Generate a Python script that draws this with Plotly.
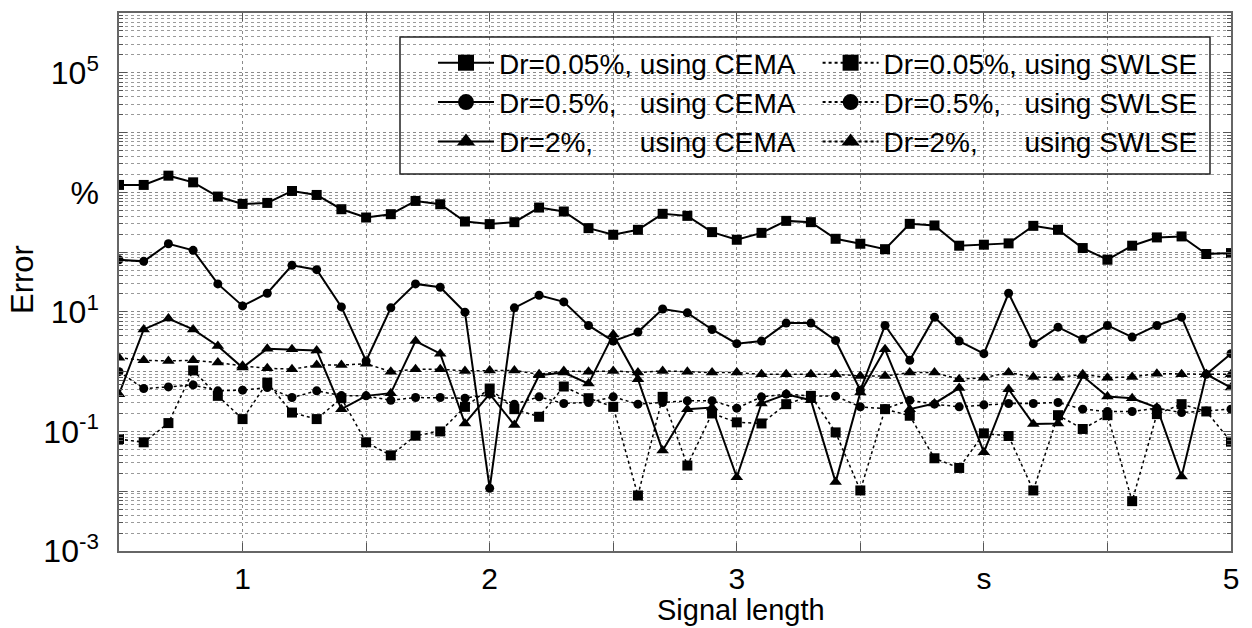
import plotly.graph_objects as go

signal_length = [round(0.5 + 0.1 * i, 1) for i in range(46)]

cema_005 = [1330, 1330, 1900, 1470, 849, 640, 665, 1054, 904, 522, 379, 431, 718, 632, 325, 294,
            317, 556, 478, 252, 195, 236, 437, 404, 216, 161, 210, 333, 317, 167, 138, 112,
            297, 279, 128, 133, 140, 275, 236, 117, 74.6, 128, 176, 183, 92.9, 96.4]
cema_05 = [74.6, 70.0, 138, 107, 29.4, 12.6, 20.5, 60.1, 50.8, 12.1, 1.51, 11.7, 29.4, 25.8, 9.89,
           0.0112, 11.7, 19.0, 14.7, 5.93, 3.25, 4.59, 11.2, 9.64, 5.08, 2.94, 3.25, 6.49, 6.49,
           3.33, 0.490, 5.93, 1.55, 8.17, 3.25, 2.00, 20.5, 2.94, 5.56, 3.47, 5.93, 3.79, 5.93,
           8.17, 0.904, 2.00]
cema_2 = [0.420, 5.09, 7.76, 5.09, 2.69, 1.17, 2.42, 2.36, 2.27, 0.236, 0.394, 0.437, 3.25, 2.00,
          0.136, 0.426, 0.128, 0.871, 0.964, 0.632, 4.20, 0.746, 0.0478, 0.236, 0.252, 0.0171,
          0.294, 0.420, 0.333, 0.0142, 0.448, 2.36, 0.236, 0.294, 0.532, 0.0448, 0.508, 0.133,
          0.136, 0.847, 0.384, 0.360, 0.252, 0.0176, 0.904, 0.542]
swlse_005 = [0.0746, 0.0658, 0.138, 1.05, 0.394, 0.161, 0.656, 0.207, 0.161, 0.360, 0.0658, 0.0398,
             0.0849, 0.100, 0.258, 0.522, 0.236, 0.176, 0.564, 0.360, 0.258, 0.00849, 0.379,
             0.0269, 0.200, 0.142, 0.136, 0.286, 0.394, 0.0964, 0.0103, 0.236, 0.183, 0.0356,
             0.0245, 0.0929, 0.0838, 0.0103, 0.187, 0.110, 0.187, 0.00682, 0.195, 0.286, 0.216,
             0.0675]
swlse_05 = [1.00, 0.522, 0.556, 0.601, 0.478, 0.490, 0.542, 0.369, 0.478, 0.398, 0.394, 0.333,
            0.369, 0.369, 0.360, 0.420, 0.286, 0.379, 0.294, 0.305, 0.379, 0.286, 0.305, 0.325,
            0.325, 0.245, 0.379, 0.420, 0.394, 0.389, 0.258, 0.240, 0.333, 0.286, 0.258, 0.279,
            0.294, 0.294, 0.305, 0.236, 0.216, 0.216, 0.245, 0.207, 0.219, 0.236]
swlse_2 = [1.71, 1.55, 1.51, 1.55, 1.42, 1.25, 1.14, 1.10, 1.29, 1.29, 1.36, 1.00, 1.10, 1.10, 1.03,
           1.05, 1.05, 0.904, 1.03, 1.00, 1.03, 0.964, 1.03, 1.00, 0.964, 0.964, 0.904, 0.904,
           0.904, 0.904, 0.847, 0.847, 0.964, 0.964, 0.746, 0.794, 0.964, 0.817, 0.794, 0.904,
           0.794, 0.817, 0.927, 0.904, 0.904, 0.904]

x_tickvals = [1, 1.5, 2, 2.5, 3, 3.5, 4, 4.5, 5]
x_ticktext = ["1", "", "2", "", "3", "", "s", "", "5"]
y_tickvals = [1e-3, 1e-2, 1e-1, 1e0, 1e1, 1e2, 1e3, 1e4, 1e5, 1e6]
y_ticktext = ["10<sup>-3</sup>", "", "10<sup>-1</sup>", "", "10<sup>1</sup>", "", "%", "",
              "10<sup>5</sup>", ""]

NB = "\u00a0"
names = [
    "Dr=0.05%," + NB + "using CEMA",
    "Dr=0.05%," + NB + "using SWLSE",
    "Dr=0.5%," + NB * 3 + "using CEMA",
    "Dr=0.5%," + NB * 3 + "using SWLSE",
    "Dr=2%," + NB * 6 + "using CEMA",
    "Dr=2%," + NB * 6 + "using SWLSE",
]
series = [cema_005, swlse_005, cema_05, swlse_05, cema_2, swlse_2]
symbols = ["square", "square", "circle", "circle", "triangle-up", "triangle-up"]
sizes = [10, 10, 9, 9, 11, 11]
dashes = ["solid", "dot", "solid", "dot", "solid", "dot"]
widths = [2, 1.5, 2, 1.5, 2, 1.5]

fig = go.Figure()
# data traces
for nm, ys, sym, sz, ds, lw in zip(names, series, symbols, sizes, dashes, widths):
    fig.add_trace(go.Scatter(
        x=signal_length, y=ys, name=nm, mode="lines+markers", showlegend=False,
        line=dict(color="black", width=lw, dash=ds),
        marker=dict(symbol=sym, size=sz, color="black"),
    ))
# legend-only entries (larger legend symbols)
for nm, sym, ds, lw in zip(names, symbols, dashes, widths):
    fig.add_trace(go.Scatter(
        x=[None], y=[None], name=nm, mode="lines+markers", showlegend=True,
        line=dict(color="black", width=2, dash=ds),
        marker=dict(symbol=sym, size=16, color="black"),
    ))

font = "Arial, Liberation Sans, sans-serif"
L, R, T, B = 119, 21, 13, 77
PW, PH = 1252 - L - R, 628 - T - B


def px_x(p):
    return (p - L) / PW


def px_y(p):
    return (628 - B - p) / PH


fig.update_layout(
    width=1252, height=628,
    margin=dict(l=L, r=R, t=T, b=B),
    paper_bgcolor="white", plot_bgcolor="white",
    font=dict(family=font, color="black", size=28),
    showlegend=True,
    legend=dict(
        x=px_x(433), y=px_y(38), xanchor="left", yanchor="top",
        orientation="h",
        bgcolor="rgba(0,0,0,0)", borderwidth=0,
        font=dict(family=font, size=28, color="black"),
        traceorder="normal", itemwidth=56,
    ),
    shapes=[dict(type="rect", xref="paper", yref="paper",
                 x0=px_x(400), x1=px_x(1210), y0=px_y(174), y1=px_y(37),
                 line=dict(color="#222", width=1.5), fillcolor="rgba(0,0,0,0)", layer="above")],
    annotations=[
        dict(text="Signal length", xref="paper", yref="paper", x=px_x(741), y=px_y(610),
             xanchor="center", yanchor="middle", showarrow=False, font=dict(size=29)),
        dict(text="Error", xref="paper", yref="paper", x=px_x(22), y=px_y(280),
             xanchor="center", yanchor="middle", showarrow=False, textangle=-90,
             font=dict(size=31)),
    ],
    xaxis=dict(
        range=[0.5, 5], tickmode="array", tickvals=x_tickvals, ticktext=x_ticktext,
        showgrid=True, gridcolor="#8a8a8a", griddash="dot", gridwidth=1,
        ticks="inside", ticklen=8, tickcolor="#555", mirror="allticks",
        showline=True, linecolor="#666", linewidth=1.5, zeroline=False,
        tickfont=dict(size=30),
    ),
    yaxis=dict(
        type="log", range=[-3, 6], tickmode="array", tickvals=y_tickvals, ticktext=y_ticktext,
        showgrid=True, gridcolor="#8a8a8a", griddash="dot", gridwidth=1,
        ticks="inside", ticklen=8, tickcolor="#555", mirror="allticks",
        showline=True, linecolor="#666", linewidth=1.5, zeroline=False,
        tickfont=dict(size=32), ticklabelstandoff=12,
        minor=dict(dtick="D1", showgrid=True, gridcolor="#9a9a9a", griddash="dot",
                   gridwidth=1, ticks="inside", ticklen=4, tickcolor="#555"),
    ),
)

fig.write_html("out.html")
